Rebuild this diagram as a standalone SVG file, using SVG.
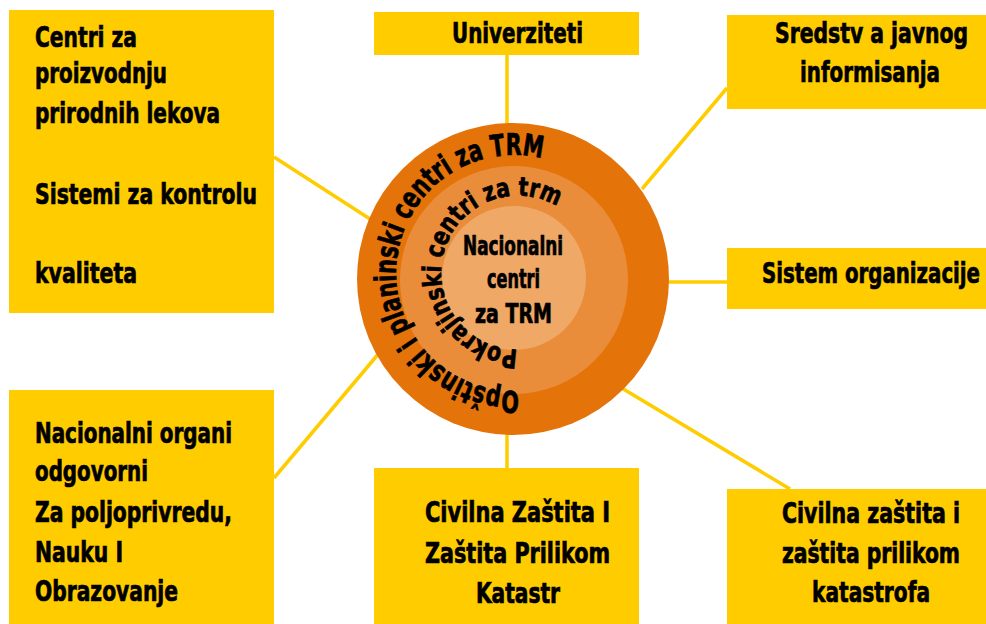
<svg xmlns="http://www.w3.org/2000/svg" width="986" height="624" viewBox="0 0 986 624">
<defs>
<style>
.box{fill:#FFCC00}
.lbl{font-family:"Liberation Sans Narrow","DejaVu Sans Condensed","Liberation Sans",sans-serif;font-weight:bold;font-size:28px;fill:#000;stroke:#000;stroke-width:0.7px}
.ctr{font-size:26px}
.conn{stroke:#FFCC00;stroke-width:3.5;fill:none}
</style>
<path id="outerArc" d="M 524.3 390.6 A 118 118 0 1 1 573 170.8"/>
<path id="innerArc" d="M 520.6 349.7 A 77 77 0 1 1 556.5 206"/>
</defs>
<rect width="986" height="624" fill="#fff"/>
<g id="connectors">
<line class="conn" x1="507" y1="55" x2="507" y2="130"/>
<line class="conn" x1="274" y1="157" x2="370" y2="219"/>
<line class="conn" x1="727" y1="88" x2="642" y2="189"/>
<line class="conn" x1="660" y1="282" x2="727" y2="282"/>
<line class="conn" x1="274" y1="478" x2="380" y2="352"/>
<line class="conn" x1="507" y1="425" x2="507" y2="468"/>
<line class="conn" x1="620" y1="387" x2="790" y2="489"/>
</g>
<g id="center">
<circle cx="513" cy="279" r="156" fill="#E4730A"/>
<circle cx="514" cy="280" r="114" fill="#EA8D3B"/>
<circle cx="514" cy="278" r="72" fill="#EFA866"/>
<text class="lbl" style="font-size:30px"><textPath href="#outerArc" startOffset="5" textLength="404" lengthAdjust="spacingAndGlyphs">Opštinski i planinski centri za TRM</textPath></text>
<text class="lbl" style="font-size:26px"><textPath href="#innerArc" startOffset="3" textLength="282" lengthAdjust="spacingAndGlyphs">Pokrajinski centri za trm</textPath></text>
<text class="lbl ctr" x="463" y="255" textLength="100" lengthAdjust="spacingAndGlyphs">Nacionalni</text>
<text class="lbl ctr" x="487" y="288" textLength="53" lengthAdjust="spacingAndGlyphs">centri</text>
<text class="lbl ctr" x="475" y="323" textLength="77" lengthAdjust="spacingAndGlyphs">za TRM</text>
</g>
<g id="n-centri">
<rect class="box" x="9" y="10" width="265" height="303"/>
<text class="lbl" x="35" y="47" textLength="102" lengthAdjust="spacingAndGlyphs">Centri za</text>
<text class="lbl" x="35" y="83" textLength="132" lengthAdjust="spacingAndGlyphs">proizvodnju</text>
<text class="lbl" x="35" y="123" textLength="185" lengthAdjust="spacingAndGlyphs">prirodnih lekova</text>
<text class="lbl" x="35" y="204" textLength="222" lengthAdjust="spacingAndGlyphs">Sistemi za kontrolu</text>
<text class="lbl" x="35" y="283" textLength="102" lengthAdjust="spacingAndGlyphs">kvaliteta</text>
</g>
<g id="n-univerziteti">
<rect class="box" x="374" y="12" width="265" height="43"/>
<text class="lbl" x="452" y="43" textLength="131" lengthAdjust="spacingAndGlyphs">Univerziteti</text>
</g>
<g id="n-sredstva">
<rect class="box" x="727" y="15" width="259" height="94"/>
<text class="lbl" x="775" y="43" textLength="193" lengthAdjust="spacingAndGlyphs">Sredstv a javnog</text>
<text class="lbl" x="800" y="82" textLength="140" lengthAdjust="spacingAndGlyphs">informisanja</text>
</g>
<g id="n-sistem">
<rect class="box" x="727" y="248" width="259" height="61"/>
<text class="lbl" x="762" y="283" textLength="218" lengthAdjust="spacingAndGlyphs">Sistem organizacije</text>
</g>
<g id="n-nacionalni">
<rect class="box" x="9" y="390" width="265" height="234"/>
<text class="lbl" x="35" y="443" textLength="197" lengthAdjust="spacingAndGlyphs">Nacionalni organi</text>
<text class="lbl" x="35" y="481" textLength="113" lengthAdjust="spacingAndGlyphs">odgovorni</text>
<text class="lbl" x="35" y="522" textLength="197" lengthAdjust="spacingAndGlyphs">Za poljoprivredu,</text>
<text class="lbl" x="35" y="562" textLength="88" lengthAdjust="spacingAndGlyphs">Nauku I</text>
<text class="lbl" x="35" y="601" textLength="143" lengthAdjust="spacingAndGlyphs">Obrazovanje</text>
</g>
<g id="n-civilna1">
<rect class="box" x="374" y="468" width="265" height="156"/>
<text class="lbl" x="425" y="522" textLength="185" lengthAdjust="spacingAndGlyphs">Civilna Zaštita I</text>
<text class="lbl" x="425" y="563" textLength="185" lengthAdjust="spacingAndGlyphs">Zaštita Prilikom</text>
<text class="lbl" x="476" y="603" textLength="84" lengthAdjust="spacingAndGlyphs">Katastr</text>
</g>
<g id="n-civilna2">
<rect class="box" x="727" y="489" width="259" height="135"/>
<text class="lbl" x="782" y="523" textLength="178" lengthAdjust="spacingAndGlyphs">Civilna zaštita i</text>
<text class="lbl" x="782" y="563" textLength="178" lengthAdjust="spacingAndGlyphs">zaštita prilikom</text>
<text class="lbl" x="812" y="602" textLength="118" lengthAdjust="spacingAndGlyphs">katastrofa</text>
</g>
</svg>
